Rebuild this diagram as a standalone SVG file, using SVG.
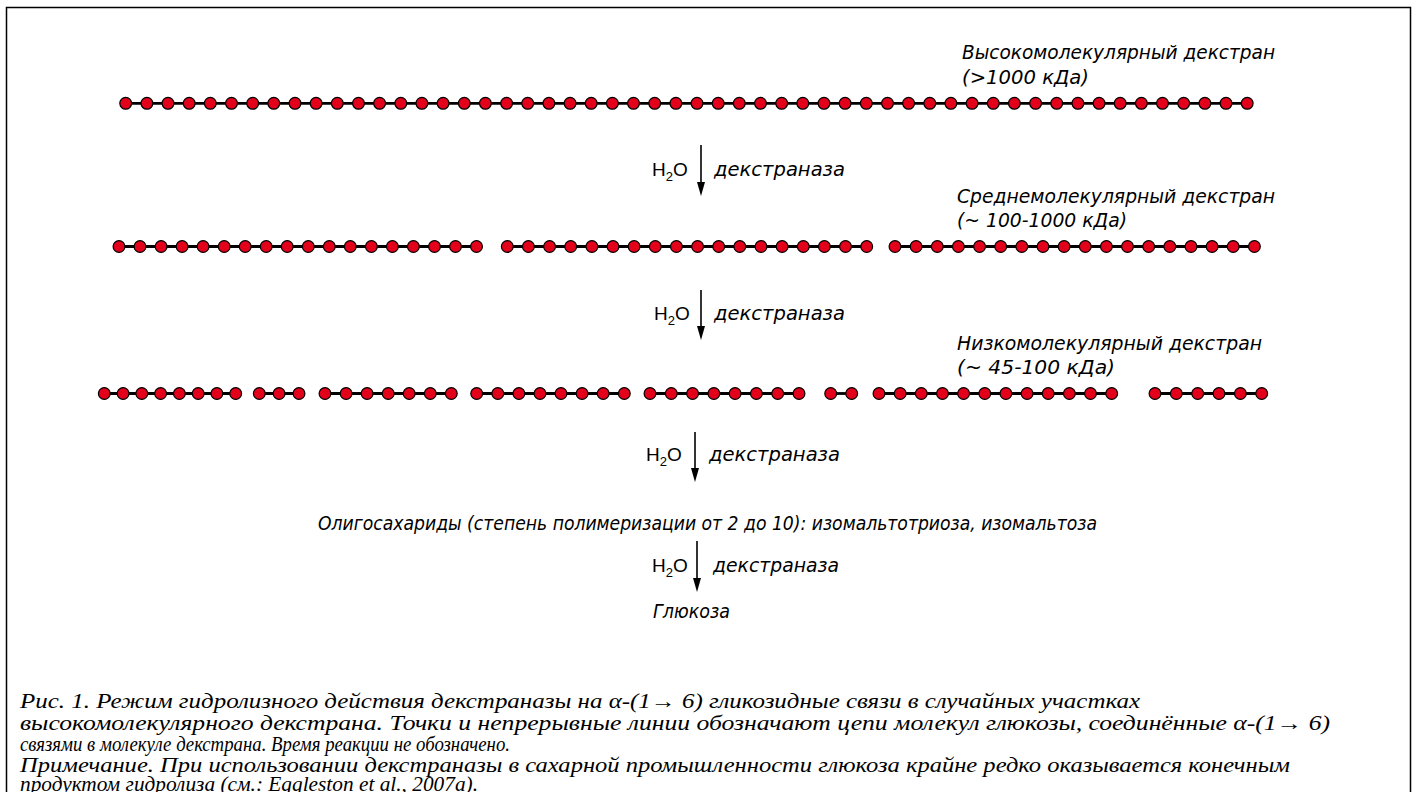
<svg xmlns="http://www.w3.org/2000/svg" xmlns:xlink="http://www.w3.org/1999/xlink" width="1418" height="792" viewBox="0 0 1418 792">
<style>
.bg{fill:#ffffff}
.frame{fill:none;stroke:#000;stroke-width:1.5}
.link{stroke:#000;stroke-width:2.8;fill:none}
.dot{fill:#e2001a;stroke:#000;stroke-width:1.2}
.arr{stroke:#000;stroke-width:1.6;fill:none}
.lbl{font-family:"DejaVu Sans","Liberation Sans",sans-serif;font-style:italic;font-size:19px;fill:#000}
.chem{font-family:"Liberation Sans",Arial,sans-serif;font-size:19px;fill:#000}
.cap{font-family:"Liberation Serif","Times New Roman",serif;font-style:italic;font-size:20.5px;fill:#000}
</style>
<defs>
<marker id="ah" viewBox="0 0 14 8" refX="4" refY="4" markerWidth="14" markerHeight="8" markerUnits="userSpaceOnUse" orient="auto">
<path d="M0,0 L14,4 L0,8 z" fill="#000"/>
</marker>
<circle id="d" r="5.9" class="dot"/>
</defs>
<rect class="bg" x="0" y="0" width="1418" height="792"/>
<rect class="frame" x="6.5" y="7.5" width="1404" height="800"/>

<g id="chain1">
<line class="link" x1="125.7" y1="103.3" x2="1247.2" y2="103.3"/>
<g transform="translate(0,103.3)">
<use href="#d" x="125.7"/><use href="#d" x="146.9"/><use href="#d" x="168.0"/><use href="#d" x="189.2"/><use href="#d" x="210.3"/><use href="#d" x="231.5"/><use href="#d" x="252.7"/><use href="#d" x="273.8"/><use href="#d" x="295.0"/><use href="#d" x="316.1"/><use href="#d" x="337.3"/><use href="#d" x="358.5"/><use href="#d" x="379.6"/><use href="#d" x="400.8"/><use href="#d" x="421.9"/><use href="#d" x="443.1"/><use href="#d" x="464.3"/><use href="#d" x="485.4"/><use href="#d" x="506.6"/><use href="#d" x="527.7"/><use href="#d" x="548.9"/><use href="#d" x="570.1"/><use href="#d" x="591.2"/><use href="#d" x="612.4"/><use href="#d" x="633.5"/><use href="#d" x="654.7"/><use href="#d" x="675.9"/><use href="#d" x="697.0"/><use href="#d" x="718.2"/><use href="#d" x="739.3"/><use href="#d" x="760.5"/><use href="#d" x="781.7"/><use href="#d" x="802.8"/><use href="#d" x="824.0"/><use href="#d" x="845.1"/><use href="#d" x="866.3"/><use href="#d" x="887.5"/><use href="#d" x="908.6"/><use href="#d" x="929.8"/><use href="#d" x="950.9"/><use href="#d" x="972.1"/><use href="#d" x="993.3"/><use href="#d" x="1014.4"/><use href="#d" x="1035.6"/><use href="#d" x="1056.7"/><use href="#d" x="1077.9"/><use href="#d" x="1099.1"/><use href="#d" x="1120.2"/><use href="#d" x="1141.4"/><use href="#d" x="1162.5"/><use href="#d" x="1183.7"/><use href="#d" x="1204.9"/><use href="#d" x="1226.0"/><use href="#d" x="1247.2"/>
</g>
</g>

<g id="label1">
<text class="lbl" x="962" y="59" textLength="313" lengthAdjust="spacingAndGlyphs">Высокомолекулярный декстран</text>
<text class="lbl" x="962" y="84" textLength="127" lengthAdjust="spacingAndGlyphs">(&gt;1000 кДа)</text>
</g>

<g id="chain2">
<line class="link" x1="119.0" y1="246.5" x2="476.5" y2="246.5"/>
<line class="link" x1="507.3" y1="246.5" x2="866.7" y2="246.5"/>
<line class="link" x1="895.0" y1="246.5" x2="1254.4" y2="246.5"/>
<g transform="translate(0,246.5)">
<use href="#d" x="119.0"/><use href="#d" x="140.0"/><use href="#d" x="161.1"/><use href="#d" x="182.1"/><use href="#d" x="203.1"/><use href="#d" x="224.2"/><use href="#d" x="245.2"/><use href="#d" x="266.2"/><use href="#d" x="287.2"/><use href="#d" x="308.3"/><use href="#d" x="329.3"/><use href="#d" x="350.3"/><use href="#d" x="371.4"/><use href="#d" x="392.4"/><use href="#d" x="413.4"/><use href="#d" x="434.5"/><use href="#d" x="455.5"/><use href="#d" x="476.5"/>
<use href="#d" x="507.3"/><use href="#d" x="528.4"/><use href="#d" x="549.6"/><use href="#d" x="570.7"/><use href="#d" x="591.9"/><use href="#d" x="613.0"/><use href="#d" x="634.1"/><use href="#d" x="655.3"/><use href="#d" x="676.4"/><use href="#d" x="697.6"/><use href="#d" x="718.7"/><use href="#d" x="739.8"/><use href="#d" x="761.0"/><use href="#d" x="782.1"/><use href="#d" x="803.3"/><use href="#d" x="824.4"/><use href="#d" x="845.5"/><use href="#d" x="866.7"/>
<use href="#d" x="895.0"/><use href="#d" x="916.1"/><use href="#d" x="937.3"/><use href="#d" x="958.4"/><use href="#d" x="979.6"/><use href="#d" x="1000.7"/><use href="#d" x="1021.8"/><use href="#d" x="1043.0"/><use href="#d" x="1064.1"/><use href="#d" x="1085.3"/><use href="#d" x="1106.4"/><use href="#d" x="1127.5"/><use href="#d" x="1148.7"/><use href="#d" x="1169.8"/><use href="#d" x="1191.0"/><use href="#d" x="1212.1"/><use href="#d" x="1233.2"/><use href="#d" x="1254.4"/>
</g>
</g>

<g id="label2">
<text class="lbl" x="957" y="203" textLength="318" lengthAdjust="spacingAndGlyphs">Среднемолекулярный декстран</text>
<text class="lbl" x="957" y="227" textLength="170" lengthAdjust="spacingAndGlyphs">(~ 100-1000 кДа)</text>
</g>

<g id="chain3">
<line class="link" x1="104.3" y1="393.5" x2="235.7" y2="393.5"/>
<line class="link" x1="259.3" y1="393.5" x2="299.0" y2="393.5"/>
<line class="link" x1="325.0" y1="393.5" x2="451.3" y2="393.5"/>
<line class="link" x1="476.7" y1="393.5" x2="624.3" y2="393.5"/>
<line class="link" x1="650.0" y1="393.5" x2="799.0" y2="393.5"/>
<line class="link" x1="830.7" y1="393.5" x2="851.7" y2="393.5"/>
<line class="link" x1="879.0" y1="393.5" x2="1111.7" y2="393.5"/>
<line class="link" x1="1155.0" y1="393.5" x2="1261.7" y2="393.5"/>
<g transform="translate(0,393.5)">
<use href="#d" x="104.3"/><use href="#d" x="123.1"/><use href="#d" x="141.8"/><use href="#d" x="160.6"/><use href="#d" x="179.4"/><use href="#d" x="198.2"/><use href="#d" x="216.9"/><use href="#d" x="235.7"/>
<use href="#d" x="259.3"/><use href="#d" x="279.1"/><use href="#d" x="299.0"/>
<use href="#d" x="325.0"/><use href="#d" x="346.1"/><use href="#d" x="367.1"/><use href="#d" x="388.2"/><use href="#d" x="409.2"/><use href="#d" x="430.3"/><use href="#d" x="451.3"/>
<use href="#d" x="476.7"/><use href="#d" x="497.8"/><use href="#d" x="518.9"/><use href="#d" x="540.0"/><use href="#d" x="561.0"/><use href="#d" x="582.1"/><use href="#d" x="603.2"/><use href="#d" x="624.3"/>
<use href="#d" x="650.0"/><use href="#d" x="671.3"/><use href="#d" x="692.6"/><use href="#d" x="713.9"/><use href="#d" x="735.1"/><use href="#d" x="756.4"/><use href="#d" x="777.7"/><use href="#d" x="799.0"/>
<use href="#d" x="830.7"/><use href="#d" x="851.7"/>
<use href="#d" x="879.0"/><use href="#d" x="900.2"/><use href="#d" x="921.3"/><use href="#d" x="942.5"/><use href="#d" x="963.6"/><use href="#d" x="984.8"/><use href="#d" x="1005.9"/><use href="#d" x="1027.1"/><use href="#d" x="1048.2"/><use href="#d" x="1069.4"/><use href="#d" x="1090.5"/><use href="#d" x="1111.7"/>
<use href="#d" x="1155.0"/><use href="#d" x="1176.3"/><use href="#d" x="1197.7"/><use href="#d" x="1219.0"/><use href="#d" x="1240.4"/><use href="#d" x="1261.7"/>
</g>
</g>

<g id="label3">
<text class="lbl" x="957" y="350" textLength="305" lengthAdjust="spacingAndGlyphs">Низкомолекулярный декстран</text>
<text class="lbl" x="957" y="374" textLength="158" lengthAdjust="spacingAndGlyphs">(~ 45-100 кДа)</text>
</g>

<g id="oligo">
<text class="lbl" x="318" y="530" textLength="779" lengthAdjust="spacingAndGlyphs">Олигосахариды (степень полимеризации от 2 до 10): изомальтотриоза, изомальтоза</text>
</g>

<g id="glucose">
<text class="lbl" x="653" y="618" textLength="77" lengthAdjust="spacingAndGlyphs">Глюкоза</text>
</g>

<g id="connectors">
<line class="arr" x1="701" y1="145" x2="701" y2="186" marker-end="url(#ah)"/>
<line class="arr" x1="701" y1="290" x2="701" y2="330" marker-end="url(#ah)"/>
<line class="arr" x1="695" y1="432" x2="695" y2="472" marker-end="url(#ah)"/>
<line class="arr" x1="697" y1="541" x2="697" y2="582" marker-end="url(#ah)"/>
<text class="chem" x="652" y="176">H<tspan font-size="13" dy="5">2</tspan><tspan dy="-5">O</tspan></text>
<text class="lbl" x="714" y="176" textLength="131" lengthAdjust="spacingAndGlyphs">декстраназа</text>
<text class="chem" x="654" y="320">H<tspan font-size="13" dy="5">2</tspan><tspan dy="-5">O</tspan></text>
<text class="lbl" x="714" y="320" textLength="131" lengthAdjust="spacingAndGlyphs">декстраназа</text>
<text class="chem" x="646" y="461">H<tspan font-size="13" dy="5">2</tspan><tspan dy="-5">O</tspan></text>
<text class="lbl" x="709" y="461" textLength="131" lengthAdjust="spacingAndGlyphs">декстраназа</text>
<text class="chem" x="652" y="572">H<tspan font-size="13" dy="5">2</tspan><tspan dy="-5">O</tspan></text>
<text class="lbl" x="713" y="572" textLength="126" lengthAdjust="spacingAndGlyphs">декстраназа</text>
</g>

<g id="caption">
<text class="cap" x="20" y="708" textLength="1120" lengthAdjust="spacingAndGlyphs">Рис. 1. Режим гидролизного действия декстраназы на α-(1→ 6) гликозидные связи в случайных участках</text>
<text class="cap" x="20" y="729.5" textLength="1310" lengthAdjust="spacingAndGlyphs">высокомолекулярного декстрана. Точки и непрерывные линии обозначают цепи молекул глюкозы, соединённые α-(1→ 6)</text>
<text class="cap" x="20" y="751" textLength="490" lengthAdjust="spacingAndGlyphs">связями в молекуле декстрана. Время реакции не обозначено.</text>
<text class="cap" x="20" y="771.5" textLength="1270" lengthAdjust="spacingAndGlyphs">Примечание. При использовании декстраназы в сахарной промышленности глюкоза крайне редко оказывается конечным</text>
<text class="cap" x="20" y="791" textLength="458" lengthAdjust="spacingAndGlyphs">продуктом гидролиза (см.: Eggleston et al., 2007a).</text>
</g>
</svg>
